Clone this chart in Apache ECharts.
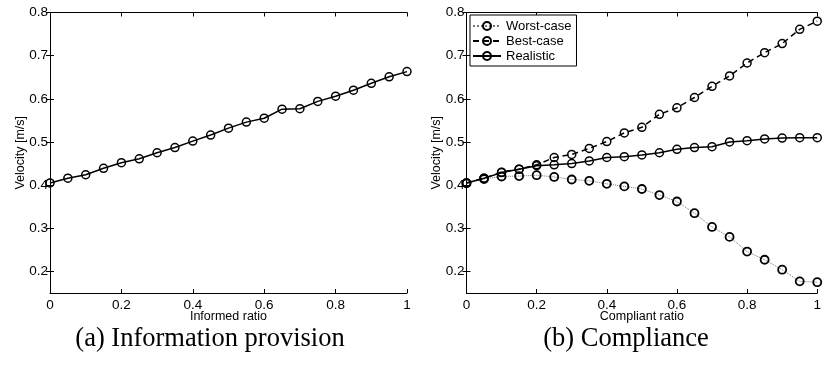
<!DOCTYPE html>
<html>
<head>
<meta charset="utf-8">
<script src="https://cdn.jsdelivr.net/npm/echarts@6/dist/echarts.min.js"></script>
<style>
  html, body { margin: 0; padding: 0; background: #fff; }
  #chart { width: 824px; height: 366px; }
</style>
</head>
<body>
<div id="chart"></div>
<script>
// ---- Data ----
var ratios = [0, 0.05, 0.1, 0.15, 0.2, 0.25, 0.3, 0.35, 0.4, 0.45, 0.5,
              0.55, 0.6, 0.65, 0.7, 0.75, 0.8, 0.85, 0.9, 0.95, 1];
var informedVelocity = [0.405, 0.416, 0.424, 0.439, 0.452, 0.461, 0.475, 0.487, 0.502, 0.516, 0.532,
                        0.546, 0.555, 0.576, 0.577, 0.594, 0.606, 0.620, 0.636, 0.651, 0.663];
var worstCase = [0.404, 0.414, 0.420, 0.421, 0.423, 0.419, 0.413, 0.410, 0.403, 0.397, 0.391,
                 0.377, 0.362, 0.335, 0.303, 0.280, 0.246, 0.227, 0.204, 0.177, 0.175];
var bestCase = [0.405, 0.416, 0.430, 0.437, 0.447, 0.464, 0.471, 0.485, 0.501, 0.521, 0.534,
                0.564, 0.579, 0.603, 0.629, 0.653, 0.683, 0.707, 0.728, 0.761, 0.780];
var realistic = [0.405, 0.416, 0.429, 0.437, 0.445, 0.447, 0.450, 0.456, 0.464, 0.466, 0.470,
                 0.475, 0.483, 0.487, 0.489, 0.500, 0.503, 0.507, 0.509, 0.510, 0.510];
var yTickValues = [0.2, 0.3, 0.4, 0.5, 0.6, 0.7, 0.8];
var seriesNames = ['Worst-case', 'Best-case', 'Realistic'];
var xTitles = ['Informed ratio', 'Compliant ratio'];
var yTitle = 'Velocity [m/s]';
var captions = ['(a) Information provision', '(b) Compliance'];

// ---- Build options ----
var FONT = "'Liberation Sans', Arial, sans-serif";
var SERIF = "'Liberation Serif', 'Times New Roman', serif";
function pairs(ys) { return ratios.map(function (x, i) { return [x, ys[i]]; }); }

var axisLineStyle = { show: true, lineStyle: { color: '#000', width: 1 } };
var tickStyle = { show: true, inside: true, length: 4, lineStyle: { color: '#000', width: 1 } };

var xAxes = [], yAxes = [];
[0, 1].forEach(function (g) {
  xAxes.push({
    type: 'value', gridIndex: g, min: 0, max: 1, interval: 0.2, position: 'bottom',
    name: xTitles[g], nameLocation: 'middle', nameGap: 17, nameMoveOverlap: false,
    nameTextStyle: { fontFamily: FONT, fontSize: 12.5, color: '#000' },
    axisLine: axisLineStyle, axisTick: tickStyle,
    axisLabel: { fontFamily: FONT, fontSize: 13.5, color: '#000', margin: 5 },
    splitLine: { show: false }
  });
  xAxes.push({
    type: 'value', gridIndex: g, min: 0, max: 1, interval: 0.2, position: 'top',
    axisLine: axisLineStyle, axisTick: tickStyle,
    axisLabel: { show: false }, splitLine: { show: false }
  });
  yAxes.push({
    type: 'value', gridIndex: g, min: 0.15, max: 0.8, position: 'left',
    name: yTitle, nameLocation: 'middle', nameGap: 23, nameRotate: 90, nameMoveOverlap: false,
    nameTextStyle: { fontFamily: FONT, fontSize: 12.5, color: '#000' },
    axisLine: axisLineStyle,
    axisTick: Object.assign({}, tickStyle, { customValues: yTickValues }),
    axisLabel: { fontFamily: FONT, fontSize: 13.5, color: '#000', margin: 2, customValues: yTickValues,
                 formatter: function (v) { return (Math.round(v * 10) / 10).toFixed(1); } },
    splitLine: { show: false }
  });
  yAxes.push({
    type: 'value', gridIndex: g, min: 0.15, max: 0.8, position: 'right',
    axisLine: axisLineStyle,
    axisTick: Object.assign({}, tickStyle, { customValues: yTickValues }),
    axisLabel: { show: false }, splitLine: { show: false }
  });
});

var markerStyle = function (bw) {
  return { color: 'rgba(0,0,0,0)', borderColor: '#000', borderWidth: bw };
};

var option = {
  animation: false,
  backgroundColor: '#fff',
  grid: [
    { left: 50, top: 12.5, width: 357, height: 280.5 },
    { left: 466.5, top: 12.5, width: 356.5, height: 280.5 }
  ],
  xAxis: xAxes,
  yAxis: yAxes,
  legend: {
    left: 470, top: 15, orient: 'vertical',
    data: seriesNames,
    backgroundColor: '#fff', borderColor: '#000', borderWidth: 1,
    padding: [4, 5, 3, 2],
    itemWidth: 28, itemHeight: 10, itemGap: 1,
    textStyle: { fontFamily: FONT, fontSize: 13, color: '#000', lineHeight: 14 },
    selectedMode: false
  },
  series: [
    {
      name: 'Informed', type: 'line', xAxisIndex: 0, yAxisIndex: 0,
      data: pairs(informedVelocity), symbol: 'circle', symbolSize: 8, clip: false,
      lineStyle: { color: '#000', width: 1.5 }, itemStyle: markerStyle(1.5)
    },
    {
      name: seriesNames[0], type: 'line', xAxisIndex: 2, yAxisIndex: 2,
      data: pairs(worstCase), symbol: 'circle', symbolSize: 8, clip: false,
      lineStyle: { color: '#777', width: 1, type: 'dotted' }, itemStyle: markerStyle(1.8)
    },
    {
      name: seriesNames[1], type: 'line', xAxisIndex: 2, yAxisIndex: 2,
      data: pairs(bestCase), symbol: 'circle', symbolSize: 8, clip: false,
      lineStyle: { color: '#000', width: 1.5, type: [6, 4] }, itemStyle: markerStyle(1.5)
    },
    {
      name: seriesNames[2], type: 'line', xAxisIndex: 2, yAxisIndex: 2,
      data: pairs(realistic), symbol: 'circle', symbolSize: 8, clip: false,
      lineStyle: { color: '#000', width: 1.5 }, itemStyle: markerStyle(1.5)
    }
  ],
  graphic: [
    { type: 'text', x: 210, y: 339, style: { text: captions[0], fontFamily: SERIF, fontSize: 26.5, fill: '#000', align: 'center', verticalAlign: 'middle' } },
    { type: 'text', x: 626, y: 339, style: { text: captions[1], fontFamily: SERIF, fontSize: 26.5, fill: '#000', align: 'center', verticalAlign: 'middle' } }
  ]
};

var chart = echarts.init(document.getElementById('chart'), null, { renderer: 'canvas' });
chart.setOption(option);
</script>
</body>
</html>
